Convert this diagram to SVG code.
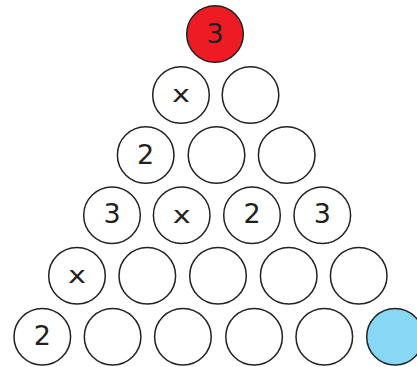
<svg xmlns="http://www.w3.org/2000/svg" width="417" height="367" viewBox="0 0 417 367">
<style>
circle{fill:#fff;stroke:#222;stroke-width:1.5}
.red{fill:#ed1c24}
.blue{fill:#87d7f5}
text{font-family:"DejaVu Sans",sans-serif;fill:#231f20;text-anchor:middle}
.d{font-size:27px}
.x{font-size:23px}
</style>
<rect width="417" height="367" fill="#fff"/>
<g id="r1c1"><circle class="red" cx="215" cy="34" r="28.3"/><text class="d" x="215" y="43">3</text></g>
<g id="r2c1"><circle cx="181" cy="95" r="28.3"/><text class="x" x="181" y="101.5" textLength="18" lengthAdjust="spacingAndGlyphs">x</text></g>
<g id="r2c2"><circle cx="250.5" cy="95" r="28.3"/></g>
<g id="r3c1"><circle cx="145.7" cy="155" r="28.3"/><text class="d" x="145.7" y="164">2</text></g>
<g id="r3c2"><circle cx="216.5" cy="155" r="28.3"/></g>
<g id="r3c3"><circle cx="286.7" cy="155" r="28.3"/></g>
<g id="r4c1"><circle cx="112" cy="215.3" r="28.3"/><text class="d" x="112" y="223">3</text></g>
<g id="r4c2"><circle cx="181.7" cy="215.3" r="28.3"/><text class="x" x="181.7" y="222.7" textLength="18" lengthAdjust="spacingAndGlyphs">x</text></g>
<g id="r4c3"><circle cx="252" cy="215.3" r="28.3"/><text class="d" x="252" y="223">2</text></g>
<g id="r4c4"><circle cx="322.3" cy="215.3" r="28.3"/><text class="d" x="322.3" y="223">3</text></g>
<g id="r5c1"><circle cx="77" cy="275.7" r="28.3"/><text class="x" x="77" y="283" textLength="18" lengthAdjust="spacingAndGlyphs">x</text></g>
<g id="r5c2"><circle cx="147.3" cy="275.7" r="28.3"/></g>
<g id="r5c3"><circle cx="218" cy="275.7" r="28.3"/></g>
<g id="r5c4"><circle cx="288.7" cy="275.7" r="28.3"/></g>
<g id="r5c5"><circle cx="358.7" cy="275.7" r="28.3"/></g>
<g id="r6c1"><circle cx="42.3" cy="336.7" r="28.3"/><text class="d" x="42.3" y="344.5">2</text></g>
<g id="r6c2"><circle cx="112.6" cy="336.7" r="28.3"/></g>
<g id="r6c3"><circle cx="182.9" cy="336.7" r="28.3"/></g>
<g id="r6c4"><circle cx="254.1" cy="336.7" r="28.3"/></g>
<g id="r6c5"><circle cx="324.3" cy="336.7" r="28.3"/></g>
<g id="r6c6"><circle class="blue" cx="395" cy="336.7" r="28.3"/></g>
<g id="connectors"></g>
</svg>
